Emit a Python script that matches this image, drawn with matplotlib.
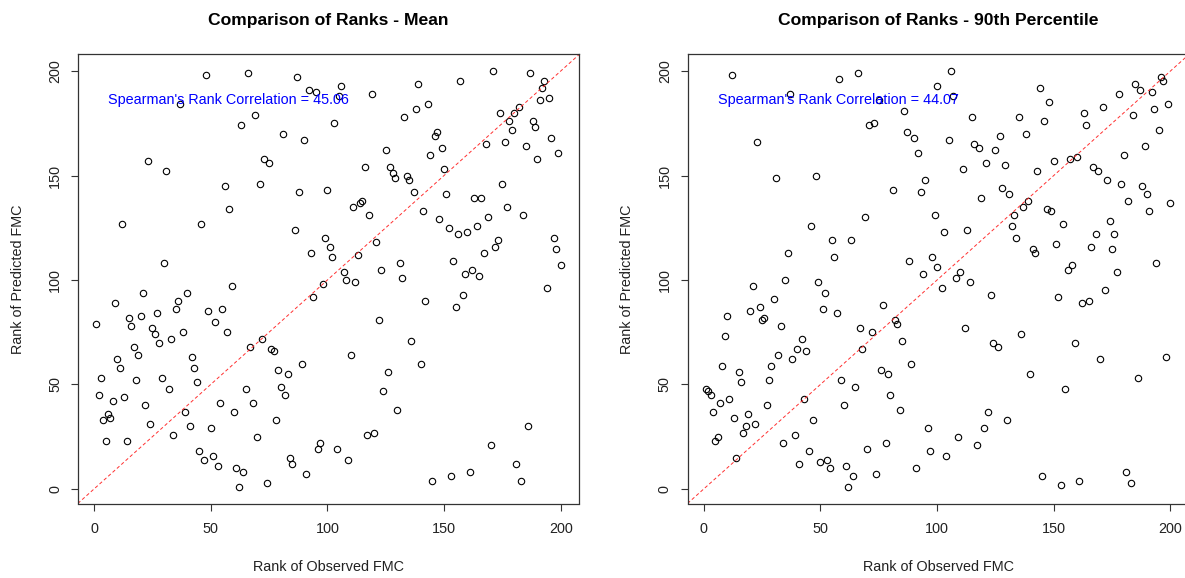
import matplotlib
matplotlib.use("Agg")
import matplotlib.pyplot as plt

plt.rcParams['font.family'] = ['Liberation Sans', 'DejaVu Sans']

# Ranks for the mean-based model: observed rank, predicted rank
mean_obs = [48, 66, 87, 92, 95, 37, 69, 63, 81, 90, 23, 31, 73, 75, 56, 71, 88, 100, 58, 12,
            46, 86, 99, 101, 93, 30,
            171, 187, 193, 192, 157, 139, 106, 105, 195, 191, 119, 143, 138, 133, 103, 182, 180,
            174, 178, 188, 189, 179, 147, 146, 196, 176, 168, 185, 149, 199, 125, 144, 190, 116,
            127, 128, 129, 134, 135, 150, 175, 137, 151, 163, 166, 111, 114, 115, 118, 141, 177,
            184, 148, 169, 152, 164, 156, 160, 102, 121, 113, 173, 172, 197, 198, 167, 154, 131,
            123, 200, 107, 108, 112, 132, 159, 162, 165,
            98, 94, 194, 142, 158, 155, 122, 136, 110, 140, 126, 124, 130, 117, 120, 97, 104, 109,
            186, 170, 181, 183, 161, 153, 145,
            59, 21, 40, 9, 36, 35, 55, 49, 27, 20, 15, 1, 16, 52, 25, 26, 57, 38, 33, 28, 17, 72,
            67, 76, 77, 19, 42, 10, 11, 43, 89, 79, 83, 3, 29, 18, 44, 80, 32, 65, 82, 2, 13, 8,
            54, 68, 22, 60, 39, 6, 4, 7, 24, 78, 41, 50, 34, 70, 5, 14, 96, 45, 51, 47, 84, 85,
            53, 61, 64, 91, 62, 74]
mean_pred = [198, 199, 197, 191, 190, 184, 179, 174, 170, 167, 157, 152, 158, 156, 145, 146, 142, 143, 134, 127,
             127, 124, 120, 116, 113, 108,
             200, 199, 195, 192, 195, 194, 193, 188, 187, 186, 189, 184, 182, 178, 175, 183, 180,
             180, 176, 176, 173, 172, 171, 169, 168, 166, 165, 164, 163, 161, 162, 160, 158, 154,
             154, 151, 149, 150, 148, 153, 146, 142, 141, 139, 139, 135, 137, 138, 131, 133, 135,
             131, 129, 130, 125, 126, 122, 123, 111, 118, 112, 119, 116, 120, 115, 113, 109, 108,
             105, 107, 104, 100, 99, 101, 103, 105, 102,
             98, 92, 96, 90, 93, 87, 81, 71, 64, 60, 56, 47, 38, 26, 27, 22, 19, 14,
             30, 21, 12, 4, 8, 6, 4,
             97, 94, 94, 89, 90, 86, 86, 85, 84, 83, 82, 79, 78, 80, 77, 74, 75, 75, 72, 70, 68, 72,
             68, 67, 66, 64, 63, 62, 58, 58, 60, 57, 55, 53, 53, 52, 51, 49, 48, 48, 45, 45, 44, 42,
             41, 41, 40, 37, 37, 36, 33, 34, 31, 33, 30, 29, 26, 25, 23, 23, 19, 18, 16, 14, 15, 12,
             11, 10, 8, 7, 1, 3]

# Ranks for the 90th-percentile model
p90_obs = [12, 58, 66, 100, 37, 75, 86, 73, 71, 87, 90, 92, 23, 31, 48, 95, 81, 93, 99, 69,
           46, 55, 63, 36, 56, 88, 98, 100, 94, 35, 49, 21,
           106, 107, 144, 148, 115, 135, 146, 138, 127, 105, 116, 118, 125, 121, 129, 111, 143,
           150, 157, 160, 163, 164, 171, 178, 185, 187, 192, 196, 197, 199, 193, 184, 195, 189,
           180, 167, 169, 173, 179, 188, 190, 182, 200, 191, 128, 131, 119, 139, 137, 147, 149,
           133, 132, 154, 174, 103, 113, 134, 168, 176, 151, 141, 142, 166, 175, 158, 156, 177,
           194, 110, 108, 114,
           102, 123, 152, 162, 165, 172, 112, 136, 124, 126, 159, 170, 198, 140, 155, 186, 122,
           130, 120, 109, 117, 104, 145, 153, 161, 181, 183,
           52, 30, 20, 24, 10, 25, 26, 51, 57, 33, 9, 77, 67, 72, 82, 83, 85, 68, 42, 40, 44, 32,
           38, 29, 8, 15, 89, 76, 79, 28, 16, 59, 65, 1, 2, 3, 11, 7, 43, 80, 27, 60, 84, 4, 13,
           19, 47, 18, 22, 17, 6, 5, 39, 34, 78, 96, 14, 45, 70, 97, 41, 50, 53, 54, 61, 74, 91,
           64, 62]
p90_pred = [198, 196, 199, 193, 189, 186, 181, 175, 174, 171, 168, 161, 166, 149, 150, 148, 143, 142, 131, 130,
            126, 119, 119, 113, 111, 109, 111, 106, 103, 100, 99, 97,
            200, 188, 192, 185, 178, 178, 176, 170, 169, 167, 165, 163, 162, 156, 155, 153, 152,
            157, 158, 159, 180, 174, 183, 189, 194, 191, 190, 197, 195, 184, 182, 179, 172, 164,
            160, 154, 152, 148, 146, 145, 141, 138, 137, 133, 144, 141, 139, 138, 135, 134, 133,
            131, 126, 127, 128, 123, 124, 120, 122, 122, 117, 115, 113, 116, 115, 107, 105, 104,
            108, 104, 101, 99,
            96, 93, 92, 89, 90, 95, 77, 74, 70, 68, 70, 62, 63, 55, 48, 53, 37,
            33, 29, 25, 21, 16, 6, 2, 4, 8, 3,
            94, 91, 85, 87, 83, 81, 82, 86, 84, 78, 73, 88, 77, 75, 81, 79, 71, 67, 72, 67, 66, 64,
            62, 59, 59, 56, 60, 57, 55, 52, 51, 52, 49, 48, 47, 45, 43, 41, 43, 45, 40, 40, 38, 37,
            34, 36, 33, 30, 31, 27, 25, 23, 26, 22, 22, 29, 15, 18, 19, 18, 12, 13, 14, 10, 11, 7,
            10, 6, 1]

titles = ["Comparison of Ranks - Mean", "Comparison of Ranks - 90th Percentile"]
spearman = [45.06, 44.07]
ticks = [0, 50, 100, 150, 200]

W, H = 1185, 578
fig = plt.figure(figsize=(W / 100, H / 100), dpi=100)

lo, hi = -6.96, 207.96
box_left = [77.8, 687.5]
box_w = 501.5
box_top, box_bot = 54.4, 503.5

panels = [(mean_obs, mean_pred), (p90_obs, p90_pred)]
for i, (xs, ys) in enumerate(panels):
    ax = fig.add_axes([box_left[i] / W, 1 - box_bot / H, box_w / W, (box_bot - box_top) / H])
    ax.set_xlim(lo, hi)
    ax.set_ylim(lo, hi)
    ax.plot(xs, ys, linestyle='none', marker='o', markersize=4.6,
            markerfacecolor='none', markeredgecolor='black', markeredgewidth=0.8)
    # 1:1 reference line
    ax.axline((0, 0), (1, 1), color='#ff3030', linewidth=0.7, dashes=(3.5, 2.5))
    ax.text(57.6, 186, f"Spearman's Rank Correlation = {spearman[i]:.2f}",
            color='blue', fontsize=10.4, ha='center', va='center')
    ax.set_xticks(ticks)
    ax.set_yticks(ticks)
    ax.tick_params(direction='out', length=5.2, width=0.8, labelsize=10.4,
                   color='#333333', labelcolor='#222222')
    ax.tick_params(axis='x', pad=8)
    ax.tick_params(axis='y', pad=6)
    for lab in ax.get_yticklabels():
        lab.set_rotation(90)
        lab.set_va('center')
    for sp in ax.spines.values():
        sp.set_linewidth(0.9)
        sp.set_color('#333333')

    cx = (box_left[i] + box_w / 2) / W
    fig.text(cx, 1 - 20.7 / H, titles[i], fontsize=12.6, fontweight='bold',
             ha='center', va='center')
    fig.text(cx, 1 - 567 / H, "Rank of Observed FMC", fontsize=10.4,
             ha='center', va='center', color='#222222')
    ylab_x = [18, 627][i]
    fig.text(ylab_x / W, 1 - (box_top + box_bot) / 2 / H, "Rank of Predicted FMC",
             fontsize=10.4, rotation=90, ha='center', va='center', color='#222222')

fig.savefig("out.png", dpi=100)
